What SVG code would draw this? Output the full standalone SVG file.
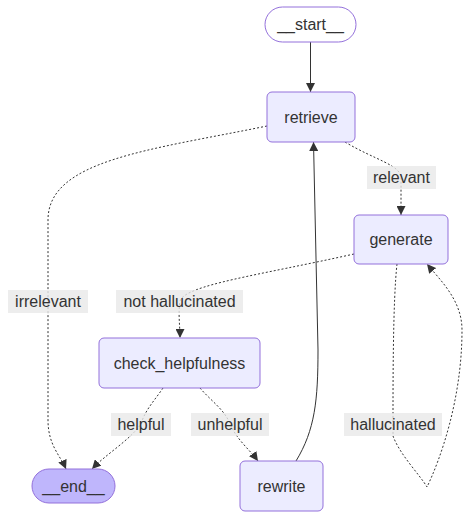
<svg xmlns="http://www.w3.org/2000/svg" width="470" height="519" viewBox="0 0 470 519">
<style>
.node rect{fill:#ECECFF;stroke:#9370DB;stroke-width:1}
.node.start rect{fill:#ffffff}
.node.end rect{fill:#BFB6FC}
.node text{font-family:"Liberation Sans",Arial,sans-serif;font-size:16px;fill:#333;text-anchor:middle;dominant-baseline:central}
.edge{fill:none;stroke:#333;stroke-width:1}
.dotted{stroke-dasharray:2 2}
.lbl rect{fill:#e8e8e8;opacity:0.8}
.lbl text{font-family:"Liberation Sans",Arial,sans-serif;font-size:16px;fill:#333;text-anchor:middle;dominant-baseline:central}
</style>
<defs>
<marker id="arr" viewBox="0 0 10 10" refX="10" refY="5" markerUnits="userSpaceOnUse" markerWidth="9" markerHeight="9" orient="auto">
<path d="M0,0 L10,5 L0,10 z" fill="#333"/>
</marker>
</defs>
<g id="connectors">
<path class="edge" d="M310.5,42 L310.5,92" marker-end="url(#arr)"/>
<path class="edge dotted" d="M345,142 C375,160 401,165 401,178 L401,215" marker-end="url(#arr)"/>
<path class="edge dotted" d="M267,126 C150,150 48,160 48,220 L48,420 C48,445 60,455 66,469" marker-end="url(#arr)"/>
<path class="edge dotted" d="M354,254 C260,275 185,285 180,301 C178,315 180,325 180,338" marker-end="url(#arr)"/>
<path class="edge dotted" d="M397,264 C393,300 393,380 393,424 L393,436 C400,455 420,475 427,487 C440,460 462,400 462,330 C462,300 440,280 427,264" marker-end="url(#arr)"/>
<path class="edge dotted" d="M163,388 C155,400 145,410 141,424 C130,440 105,455 92,469" marker-end="url(#arr)"/>
<path class="edge dotted" d="M200,388 C210,400 225,410 230,424 C237,440 250,450 258,461" marker-end="url(#arr)"/>
<path class="edge" d="M296,461 C315,430 318,400 318,350 L313.5,142" marker-end="url(#arr)"/>
</g>
<g id="edge-labels">
<g class="lbl"><rect x="367" y="166" width="69" height="23"/><text x="401.5" y="177.5">relevant</text></g>
<g class="lbl"><rect x="8" y="290" width="80" height="23"/><text x="48" y="301.5">irrelevant</text></g>
<g class="lbl"><rect x="116" y="290" width="127" height="23"/><text x="179.5" y="301.5">not hallucinated</text></g>
<g class="lbl"><rect x="111" y="413" width="60" height="23"/><text x="141" y="424.5">helpful</text></g>
<g class="lbl"><rect x="191" y="413" width="78" height="23"/><text x="230" y="424.5">unhelpful</text></g>
<g class="lbl"><rect x="344" y="413" width="98" height="23"/><text x="393" y="424.5">hallucinated</text></g>
</g>
<g id="start" class="node start"><rect x="265" y="7" width="91" height="35" rx="17.5" ry="17.5"/><text x="310.5" y="24.5">__start__</text></g>
<g id="retrieve" class="node"><rect x="267" y="92" width="88" height="50" rx="5" ry="5"/><text x="311" y="117">retrieve</text></g>
<g id="generate" class="node"><rect x="354" y="215" width="94" height="49" rx="5" ry="5"/><text x="401" y="239.5">generate</text></g>
<g id="check_helpfulness" class="node"><rect x="99" y="338" width="161" height="50" rx="5" ry="5"/><text x="179.5" y="363">check_helpfulness</text></g>
<g id="end" class="node end"><rect x="32" y="469" width="83" height="34" rx="17" ry="17"/><text x="73.5" y="486">__end__</text></g>
<g id="rewrite" class="node"><rect x="240" y="461" width="83" height="50" rx="5" ry="5"/><text x="281.5" y="486">rewrite</text></g>
</svg>
